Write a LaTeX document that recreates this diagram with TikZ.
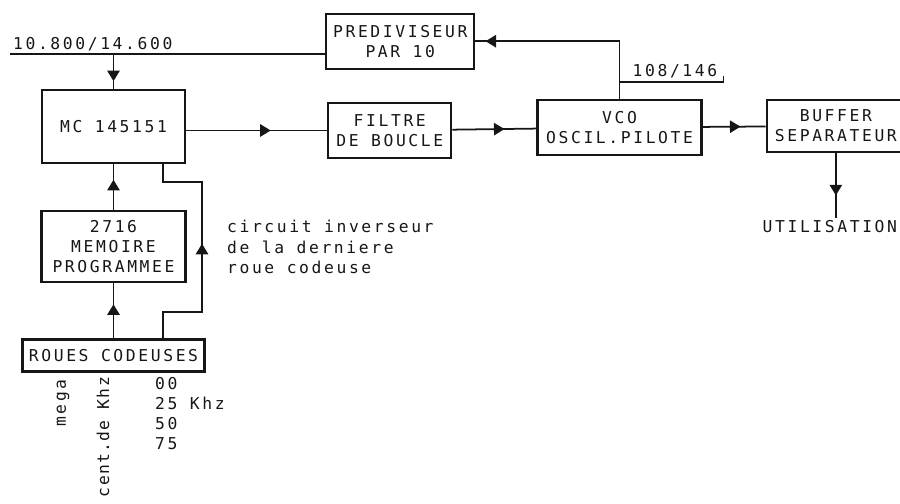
\documentclass[tikz,border=0pt]{standalone}
\usepackage{fontspec}
\usepackage{xcolor}
\usepackage{tikz}
\usetikzlibrary{arrows.meta,positioning,calc,decorations.markings}
\newfontfamily\plotfont[LetterSpace=16]{DejaVu Sans Mono}
\newfontfamily\plottight[LetterSpace=8]{DejaVu Sans Mono}
\definecolor{ink}{RGB}{22,22,22}
\tikzset{
  box/.style={rectangle,draw=ink,line width=1.3pt,align=center,inner sep=2pt,
              font=\plotfont\fontsize{9.3}{11.5}\selectfont,text=ink},
  lbl/.style={inner sep=1pt,font=\plotfont\fontsize{9.3}{11.5}\selectfont,text=ink},
  flow/.style={draw=ink,line width=1pt},
  midarrow/.style={postaction={decorate},decoration={markings,
              mark=at position #1 with {\arrow{Triangle[length=6pt,width=7pt]}}}},
}
\begin{document}
\begin{tikzpicture}[node distance=0.9cm]
  \useasboundingbox (0,0) rectangle (18,-10.08);
  \node[box,minimum width=2.86cm,minimum height=1.46cm] (mc) at (2.27,-2.53) {MC 145151};
  \node[box,minimum width=2.88cm,minimum height=1.42cm,below=0.92cm of mc] (mem) {2716\\MEMOIRE\\PROGRAMMEE};
  \node[box,minimum width=3.64cm,minimum height=0.64cm,inner xsep=1pt,below=1.1cm of mem] (roues) {ROUES CODEUSES};
  \node[box,minimum width=2.46cm,minimum height=1.1cm,right=2.82cm of mc,yshift=-0.08cm] (filtre) {FILTRE\\DE BOUCLE};
  \node[box,minimum width=3.28cm,minimum height=1.1cm,right=1.68cm of filtre,yshift=0.06cm] (vco) {VCO\\OSCIL.PILOTE};
  \node[box,minimum width=2.76cm,minimum height=1.04cm,right=1.26cm of vco,yshift=0.03cm] (buf) {BUFFER\\SEPARATEUR};
  \node[box,minimum width=2.96cm,minimum height=1.1cm,above=0.64cm of filtre,xshift=0.21cm] (pre) {PREDIVISEUR\\PAR 10};
  \node[lbl,below=1.3cm of buf,xshift=-0.12cm] (util) {UTILISATION};

  % reference input
  \coordinate (ref) at (0.2,-1.08);
  \node[lbl,anchor=south west] (reflbl) at ($(ref)+(0.02,0.02)$) {10.800/14.600};
  \draw[flow] (ref) -- (ref -| pre.west);
  \draw[flow,midarrow=0.78] (ref -| mc.north) -- (mc.north);

  % main loop
  \draw[flow,midarrow=0.6] (mc.east |- filtre) -- (filtre);
  \draw[flow,midarrow=0.62] (filtre) -- (vco);
  \draw[flow,midarrow=0.6] (vco) -- (buf);
  \draw[flow,midarrow=0.65] (buf.south) -- (buf.south |- util.north);
  \draw[flow,midarrow=0.95] (vco.north) |- (pre.east);
  \draw[flow] ($(vco.north)+(0,0.34)$) coordinate (vtap) -- ++(2.08,0) coordinate (vend) -- ++(0,0.12);
  \node[lbl,anchor=south west] (vlbl) at ($(vtap)+(0.22,0.03)$) {108/146};

  % programming
  \draw[flow,midarrow=0.66] (mem) -- (mc);
  \draw[flow,midarrow=0.62] (roues) -- (mem);
  \coordinate (tap) at (3.26,-6.24);
  \coordinate (inv) at (4.04,-3.64);
  \draw[flow,midarrow=0.53] (roues.north -| tap) -- (tap) -| (inv) -| (mc.south -| tap);
  \node[lbl,align=left,anchor=west] (note) at (4.5,-4.94) {circuit inverseur\\de la derniere\\roue codeuse};

  % wheel labels
  \node[lbl,rotate=90] (mega) at (1.26,-8.06) {mega};
  \node[lbl,rotate=90,anchor=east,font=\plottight\fontsize{9.3}{11.5}\selectfont] (cent) at (2.06,-7.5) {cent.de Khz};
  \node[lbl,align=left,anchor=north west] (steps) at (3.06,-7.5) {00\\25 Khz\\50\\75};
\end{tikzpicture}
\end{document}
